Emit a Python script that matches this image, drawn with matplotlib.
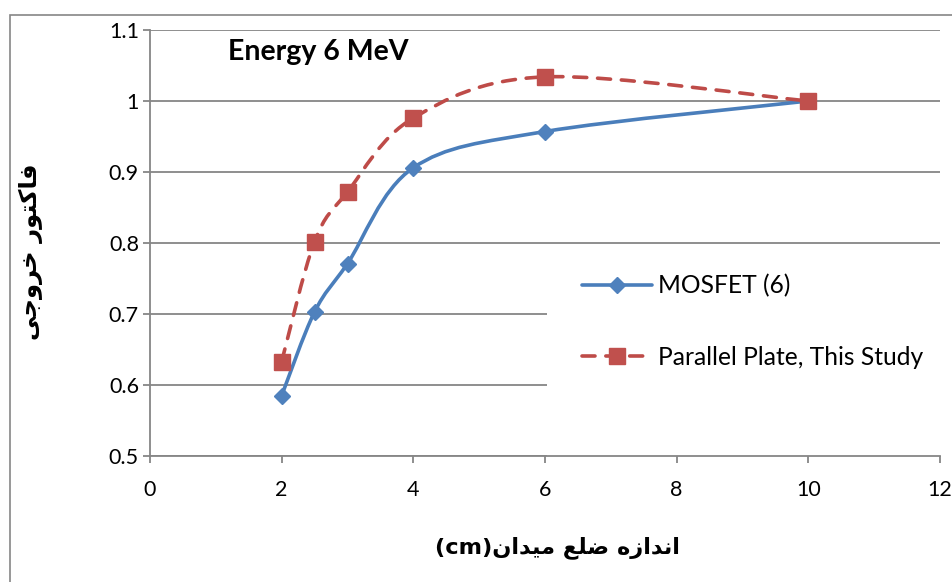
import numpy as np
import matplotlib
matplotlib.use("Agg")
import matplotlib.pyplot as plt
from matplotlib.path import Path
from matplotlib.patches import PathPatch, Rectangle
from matplotlib.lines import Line2D
from matplotlib.ticker import FuncFormatter

# data
field_size = [2, 2.5, 3, 4, 6, 10]
mosfet = [0.585, 0.703, 0.771, 0.906, 0.957, 1.0]
parallel = [0.633, 0.802, 0.872, 0.976, 1.034, 1.0]
labels = ["MOSFET (6)", "Parallel Plate, This Study"]

title = "Energy 6 MeV"
# Persian labels, written in visual order with presentation forms
xlabel = "(cm)" + "\uFEE5\uFE8D\uFEAA\uFBFF\uFEE3 \uFECA\uFEE0\uFEBF \uFEE9\uFEAF\uFE8D\uFEAA\uFEE7\uFE8D"
ylabel = "\uFBFD\uFE9F\uFEED\uFEAE\uFEA7 \uFEAD\uFEEE\uFE98\uFB90\uFE8E\uFED3"

blue = "#4A7EBB"
blue_m = "#4F81BD"
red = "#BE4B48"
red_m = "#C0504D"
grey = "#868686"

plt.rcParams['font.family'] = ['Lato', 'DejaVu Sans']


def smooth_path(x, y):
    # Excel-like smoothed line: cubic bezier segments (Catmull-Rom tangents / 6)
    p = np.column_stack([x, y]).astype(float)
    n = len(p)
    verts = [p[0]]
    codes = [Path.MOVETO]
    for i in range(n - 1):
        p0 = p[i - 1] if i > 0 else p[i]
        p3 = p[i + 2] if i + 2 < n else p[i + 1]
        c1 = p[i] + (p[i + 1] - p0) / 6.0
        c2 = p[i + 1] - (p3 - p[i]) / 6.0
        verts += [c1, c2, p[i + 1]]
        codes += [Path.CURVE4] * 3
    return Path(verts, codes)


fig = plt.figure(figsize=(9.52, 5.82), dpi=100)
ax = fig.add_axes([150 / 952, 1 - 456 / 582, 790 / 952, 426 / 582])

# chart area border (only left/top visible in the crop)
fig.patches.append(Rectangle((9.5 / 952, -0.2), 1.5, 1.2 - 14.5 / 582, transform=fig.transFigure,
                             fill=False, edgecolor=grey, linewidth=1.2))

ax.set_xlim(0, 12)
ax.set_ylim(0.5, 1.1)
ax.set_xticks(np.arange(0, 13, 2))
ax.set_yticks(np.arange(0.5, 1.11, 0.1))
ax.yaxis.set_major_formatter(FuncFormatter(lambda v, p: f"{v:g}"))
ax.set_axisbelow(True)
ax.grid(axis='y', color=grey, linewidth=1.3)
for s in ['top', 'right']:
    ax.spines[s].set_visible(False)
for s in ['left', 'bottom']:
    ax.spines[s].set_color(grey)
    ax.spines[s].set_linewidth(1.3)
ax.tick_params(axis='both', direction='out', length=5, width=1.3, color=grey, labelsize=15.5)
ax.tick_params(axis='x', pad=12)
ax.tick_params(axis='y', pad=3)

# white legend area hiding the gridlines
ax.add_patch(Rectangle((6.03, 0.5), 6, 0.27, facecolor='white', edgecolor='none', zorder=1))

ax.add_patch(PathPatch(smooth_path(field_size, mosfet), fill=False, edgecolor=blue,
                       linewidth=2.6, capstyle='round', zorder=3))
pp = PathPatch(smooth_path(field_size, parallel), fill=False, edgecolor=red,
               linewidth=2.6, linestyle=(0, (3.6, 3.0)), capstyle='round', zorder=3)
ax.add_patch(pp)
ax.plot(field_size, mosfet, linestyle='none', marker='D', markersize=8.5,
        color=blue_m, zorder=4)
ax.plot(field_size, parallel, linestyle='none', marker='s', markersize=11.5,
        color=red_m, zorder=4)

h1 = Line2D([], [], color=blue, linewidth=2.6, marker='D', markersize=8.5,
            markerfacecolor=blue_m, markeredgecolor=blue_m, solid_capstyle='round')
h2 = Line2D([], [], color=red, linewidth=2.6, linestyle=(0, (3.6, 3.0)), marker='s',
            markersize=11.5, markerfacecolor=red_m, markeredgecolor=red_m,
            dash_capstyle='round')
ax.legend([h1, h2], labels, loc='center left', bbox_to_anchor=((582 - 150) / 790, 1 - (321.5 - 30) / 426),
          frameon=False, fontsize=17.7, handlelength=2.85, handletextpad=0.25,
          labelspacing=1.95, borderpad=0, borderaxespad=0)

ax.text((228 - 150) / 790, 1 - (52 - 30) / 426, title, transform=ax.transAxes,
        fontsize=20.5, fontweight='bold', va='center', ha='left')

fig.text(557 / 952, 1 - 548 / 582, xlabel, ha='center', va='center', fontsize=16.2,
         fontweight='bold', family=['DejaVu Sans'])
fig.text(31 / 952, 1 - 252 / 582, ylabel, ha='center', va='center', fontsize=17.5,
         fontweight='bold', rotation=90, family=['DejaVu Sans'])

fig.savefig("out.png", dpi=100, facecolor='white')
